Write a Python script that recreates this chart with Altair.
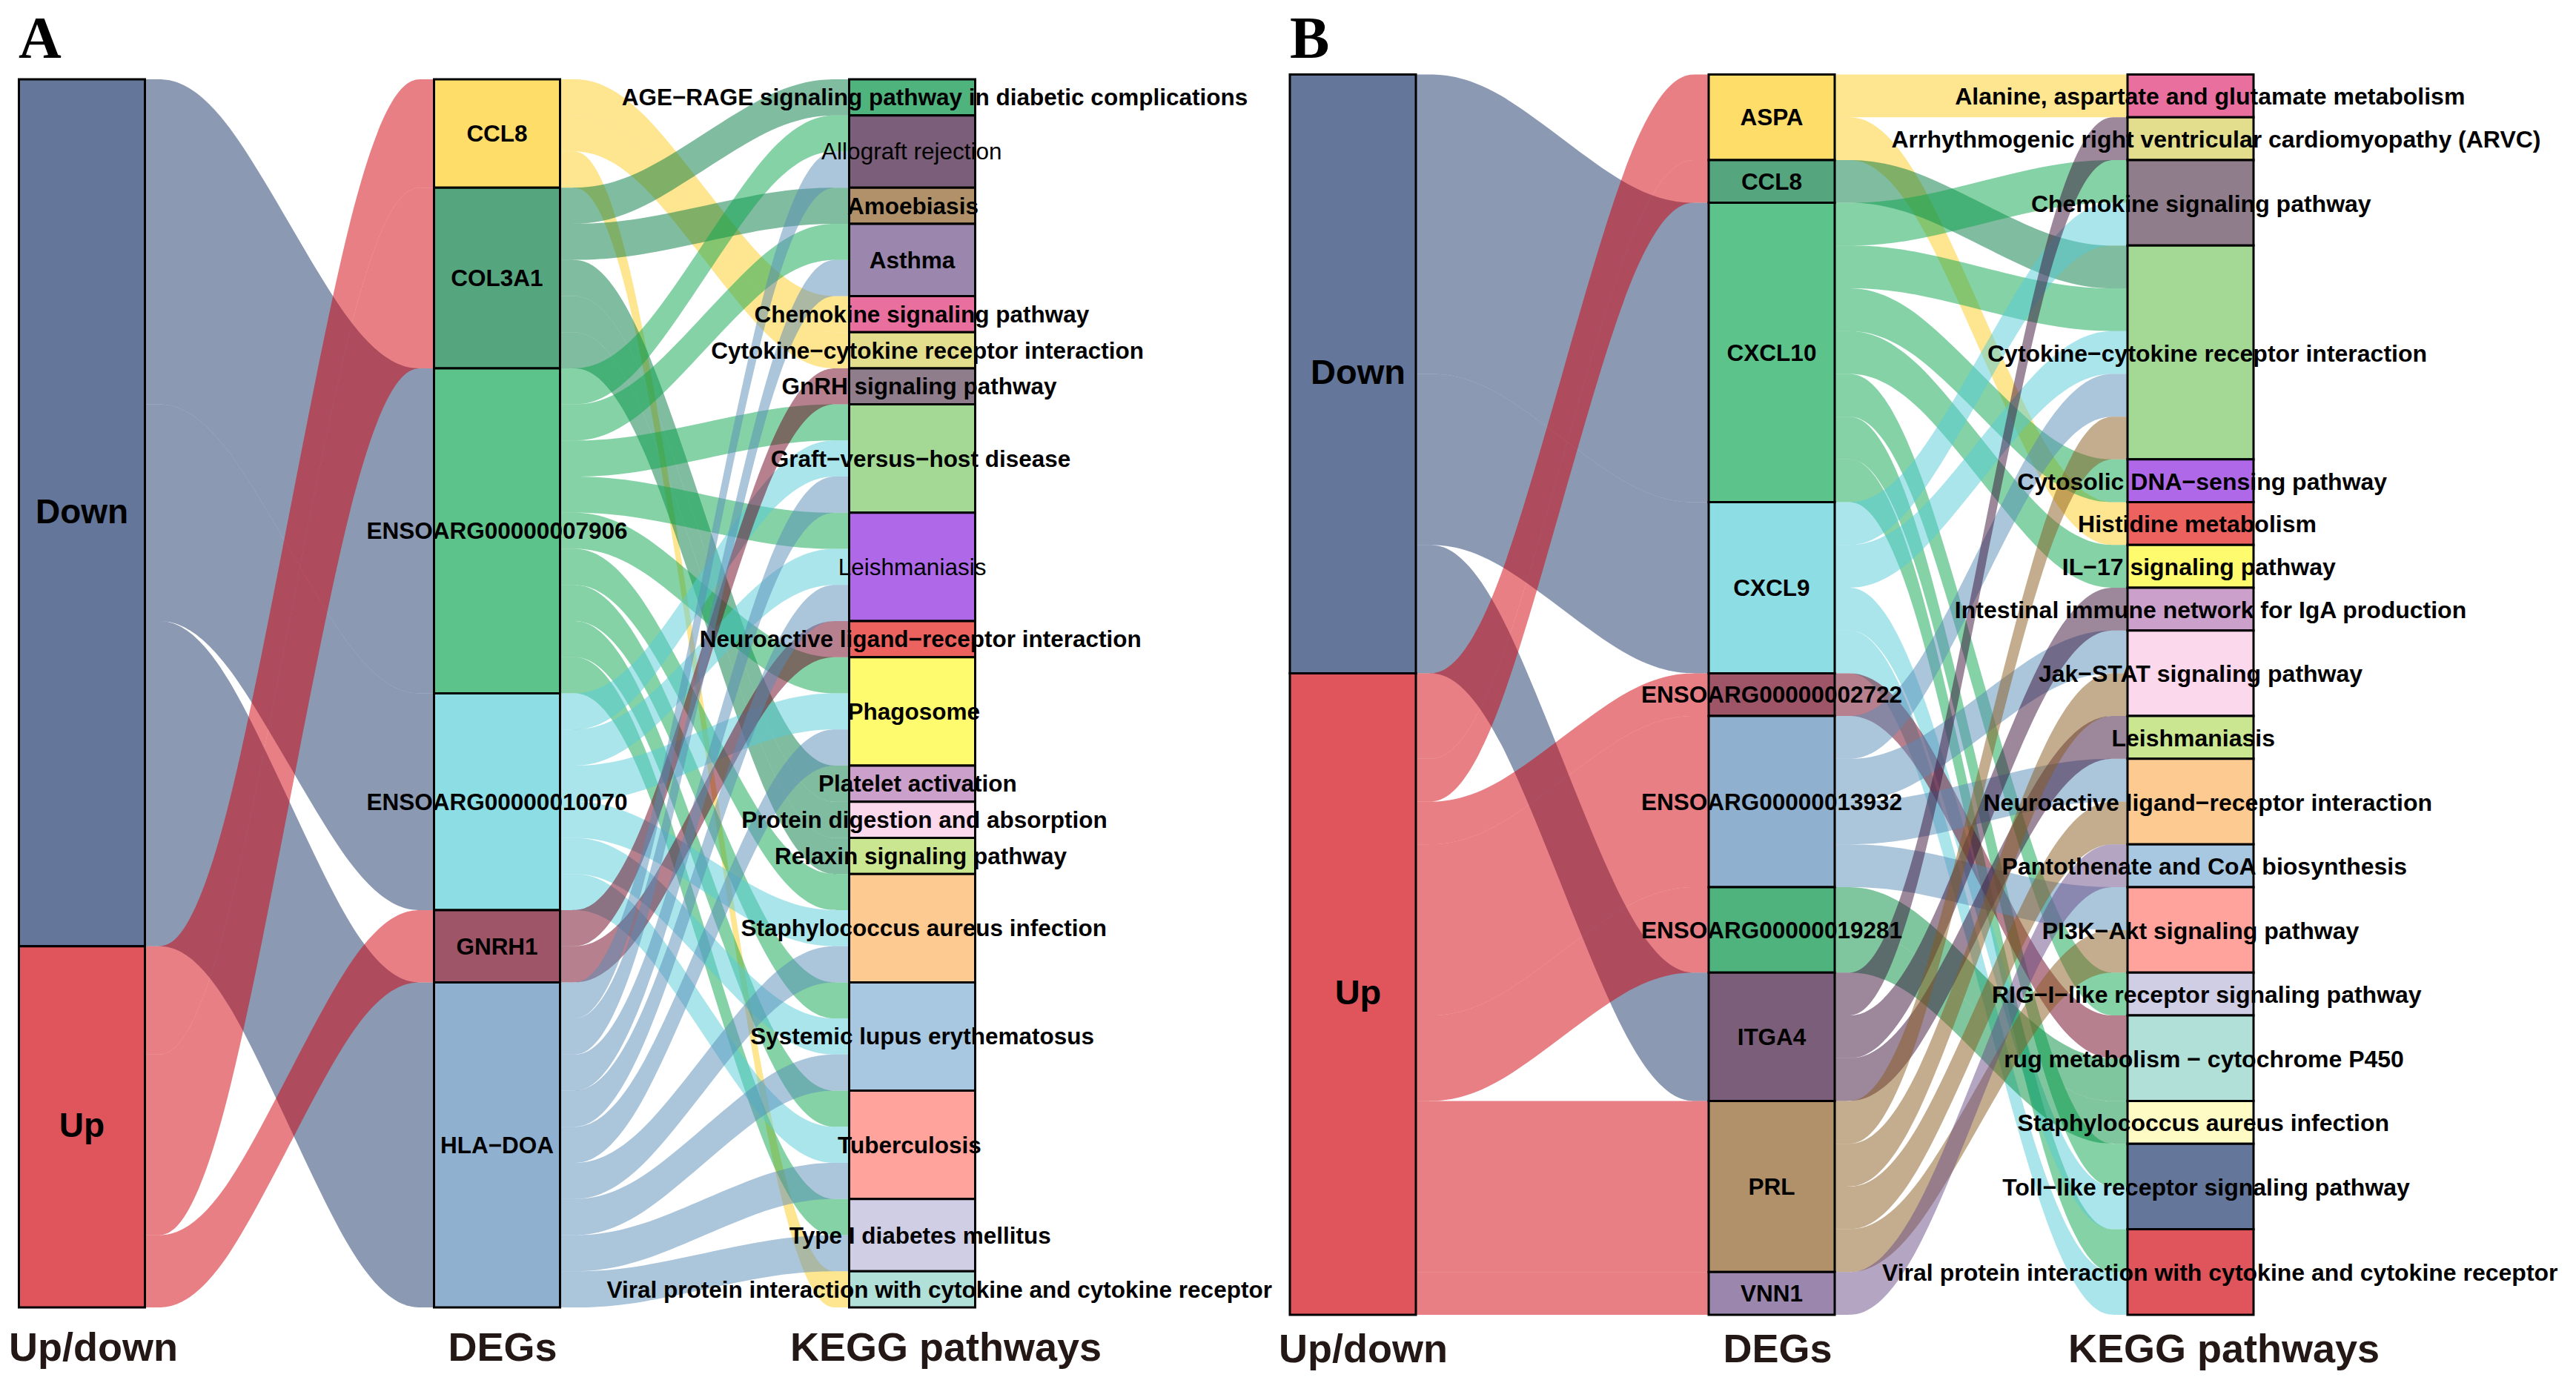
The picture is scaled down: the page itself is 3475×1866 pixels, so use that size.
import altair as alt
import pandas as pd

# ---------- chart values: panel A ----------
a_direction = ["Down", "Up"]
a_genes_down = ["ENSOARG00000007906", "ENSOARG00000010070", "HLA\u2212DOA"]
a_genes_up = ["CCL8", "COL3A1", "GNRH1"]
a_gene_order = ["CCL8", "COL3A1", "ENSOARG00000007906", "ENSOARG00000010070", "GNRH1", "HLA\u2212DOA"]
a_pathways = [
    "AGE\u2212RAGE signaling pathway in diabetic complications", "Allograft rejection", "Amoebiasis", "Asthma",
    "Chemokine signaling pathway", "Cytokine\u2212cytokine receptor interaction", "GnRH signaling pathway",
    "Graft\u2212versus\u2212host disease", "Leishmaniasis", "Neuroactive ligand\u2212receptor interaction", "Phagosome",
    "Platelet activation", "Protein digestion and absorption", "Relaxin signaling pathway",
    "Staphylococcus aureus infection", "Systemic lupus erythematosus", "Tuberculosis",
    "Type I diabetes mellitus", "Viral protein interaction with cytokine and cytokine receptor",
]
a_links = {
    "CCL8": [4, 5, 18],
    "COL3A1": [0, 2, 11, 12, 13],
    "ENSOARG00000007906": [1, 3, 7, 8, 10, 14, 15, 16, 17],
    "ENSOARG00000010070": [7, 8, 10, 14, 15, 16],
    "GNRH1": [6, 9],
    "HLA\u2212DOA": [1, 3, 7, 8, 10, 14, 15, 16, 17],
}

# ---------- chart values: panel B ----------
b_direction = ["Down", "Up"]
b_genes_down = ["CXCL10", "CXCL9", "ITGA4"]
b_genes_up = ["ASPA", "CCL8", "ENSOARG00000002722", "ENSOARG00000013932", "ENSOARG00000019281", "PRL", "VNN1"]
b_gene_order = ["ASPA", "CCL8", "CXCL10", "CXCL9", "ENSOARG00000002722", "ENSOARG00000013932",
                "ENSOARG00000019281", "ITGA4", "PRL", "VNN1"]
b_pathways = [
    "Alanine, aspartate and glutamate metabolism", "Arrhythmogenic right ventricular cardiomyopathy (ARVC)",
    "Chemokine signaling pathway", "Cytokine\u2212cytokine receptor interaction", "Cytosolic DNA\u2212sensing pathway",
    "Histidine metabolism", "IL\u221217 signaling pathway", "Intestinal immune network for IgA production",
    "Jak\u2212STAT signaling pathway", "Leishmaniasis", "Neuroactive ligand\u2212receptor interaction",
    "Pantothenate and CoA biosynthesis", "PI3K\u2212Akt signaling pathway", "RIG\u2212I\u2212like receptor signaling pathway",
    "rug metabolism \u2212 cytochrome P450", "Staphylococcus aureus infection", "Toll\u2212like receptor signaling pathway",
    "Viral protein interaction with cytokine and cytokine receptor",
]
b_links = {
    "ASPA": [0, 5],
    "CCL8": [3],
    "CXCL10": [2, 3, 4, 6, 13, 16, 17],
    "CXCL9": [2, 3, 16, 17],
    "ENSOARG00000002722": [14],
    "ENSOARG00000013932": [3, 8, 10, 12],
    "ENSOARG00000019281": [14, 15],
    "ITGA4": [1, 7, 9],
    "PRL": [3, 8, 10, 12],
    "VNN1": [11],
}

# ---------- styling ----------
dir_colors = {"Down": "#64779A", "Up": "#E0545B"}
a_gene_colors = ["#FEDD69", "#55A67F", "#5CC38A", "#8DDDE4", "#9E5568", "#8FB1CF"]
b_gene_colors = ["#FEDD69", "#55A67F", "#5CC38A", "#8DDDE4", "#9E5568", "#8FB1CF", "#4FB37E", "#7B5E79", "#B09169", "#9B87AE"]
a_path_colors = ["#4FB37E", "#7B5E79", "#B09169", "#9B87AE", "#E96F9E", "#E3DD8E", "#8F7D8B", "#A4D995", "#AF69E8",
                 "#EB625E", "#FFFB6E", "#CBA0CB", "#FBD8EC", "#CBE690", "#FDCB91", "#A8C8E2", "#FFA39C", "#D0CEE5", "#B0E0D8"]
b_path_colors = ["#E96F9E", "#E3DD8E", "#8F7D8B", "#A4D995", "#AF69E8", "#EB625E", "#FFFB6E", "#CBA0CB", "#FBD8EC",
                 "#CBE690", "#FDCB91", "#A8C8E2", "#FFA39C", "#D0CEE5", "#B0E0D8", "#FFFBC5", "#64779A", "#E0545B"]

W, H = 3459, 1850
KNOT = 0.25
BOX_ALPHA = 0.67      # the boxes are the ribbon hue seen at this alpha over white
RIBBON_OPACITY = 0.5


def ribbon_hue(box_hex):
    """Undo the box alpha so that ribbons overlap as darkly as they do in the figure."""
    rgb = [int(box_hex[i:i + 2], 16) for i in (1, 3, 5)]
    out = [max(0, min(255, round((v - (1 - BOX_ALPHA) * 255) / BOX_ALPHA))) for v in rgb]
    return "#%02X%02X%02X" % tuple(out)


panels = [
    dict(name="A", left=25.5, gap=560, col=170, top=107, bottom=1764,
         direction=a_direction, down=a_genes_down, up=a_genes_up, genes=a_gene_order,
         pathways=a_pathways, links=a_links, gcol=a_gene_colors, pcol=a_path_colors,
         letter_x=25, titles_x=[126, 678, 1276], title_y=1820, shift_k=0.7, dir_dx=0,
         light={"Allograft rejection", "Leishmaniasis"},
         nudge={"Neuroactive ligand\u2212receptor interaction": -10, "Allograft rejection": -8,
                "Tuberculosis": -6, "Leishmaniasis": -3, "Phagosome": 2}),
    dict(name="B", left=1740, gap=565, col=170, top=100.5, bottom=1774,
         direction=b_direction, down=b_genes_down, up=b_genes_up, genes=b_gene_order,
         pathways=b_pathways, links=b_links, gcol=b_gene_colors, pcol=b_path_colors,
         letter_x=1740, titles_x=[1839, 2398, 3000], title_y=1822, shift_k=0.75, dir_dx=7,
         light=set(), nudge={}),
]

ribbons, boxes, labels = [], [], []
rid = 0


def add_ribbon(x0, x1, top0, bot0, top1, bot1, color):
    global rid
    k = (x1 - x0) * KNOT
    for step, (xx, t, b) in enumerate([(x0, top0, bot0), (x0 + k, top0, bot0), (x1 - k, top1, bot1), (x1, top1, bot1)]):
        ribbons.append(dict(rib=f"r{rid}", step=step, px=xx, upper=t, lower=b, fillc=ribbon_hue(color)))
    rid += 1


for p in panels:
    genes, links, pathways = p["genes"], p["links"], p["pathways"]
    size = {g: len(links[g]) for g in genes}
    total = sum(size.values())
    unit = (p["bottom"] - p["top"]) / total
    X = [p["left"] + i * p["gap"] for i in range(3)]
    CW = p["col"]
    Y = lambda v: p["top"] + v * unit

    gene_start, c = {}, 0
    for g in genes:
        gene_start[g] = c
        c += size[g]

    # column 1 and its ribbons
    c = 0
    for d, members in zip(p["direction"], [p["down"], p["up"]]):
        n = sum(size[g] for g in members)
        boxes.append(dict(x=X[0], x2=X[0] + CW, y=Y(c), y2=Y(c + n), color=dir_colors[d]))
        labels.append(dict(x=X[0] + CW / 2 + p["dir_dx"], y=Y(c + n / 2), text=d, kind="dir_" + p["name"]))
        s = c
        for g in members:
            add_ribbon(X[0] + CW, X[1], Y(s), Y(s + size[g]), Y(gene_start[g]), Y(gene_start[g] + size[g]), dir_colors[d])
            s += size[g]
        c += n

    # pathway sizes
    psize = [0] * len(pathways)
    for g in genes:
        for i in links[g]:
            psize[i] += 1
    pstart, c = [], 0
    for v in psize:
        pstart.append(c)
        c += v
    pfill = list(pstart)

    # column 2 and its ribbons
    for gi, g in enumerate(genes):
        s = gene_start[g]
        boxes.append(dict(x=X[1], x2=X[1] + CW, y=Y(s), y2=Y(s + size[g]), color=p["gcol"][gi]))
        labels.append(dict(x=X[1] + CW / 2, y=Y(s + size[g] / 2) + 2, text=g, kind="gene"))
        for j, i in enumerate(links[g]):
            add_ribbon(X[1] + CW, X[2], Y(s + j), Y(s + j + 1), Y(pfill[i]), Y(pfill[i] + 1), p["gcol"][gi])
            pfill[i] += 1

    # column 3
    for i, name in enumerate(pathways):
        boxes.append(dict(x=X[2], x2=X[2] + CW, y=Y(pstart[i]), y2=Y(pstart[i] + psize[i]), color=p["pcol"][i]))
        shift = max(0, p["shift_k"] * len(name) - 6) + p["nudge"].get(name, 0)
        labels.append(dict(x=X[2] + CW / 2 + shift, y=Y(pstart[i] + psize[i] / 2) + 2, text=name,
                           kind="light" if name in p["light"] else "path_" + p["name"]))

    for tx, t in zip(p["titles_x"], ["Up/down", "DEGs", "KEGG pathways"]):
        labels.append(dict(x=tx, y=p["title_y"], text=t, kind="title"))
    labels.append(dict(x=p["letter_x"], y=54, text=p["name"], kind="letter"))

rib = pd.DataFrame(ribbons)
box = pd.DataFrame(boxes)
lab = pd.DataFrame(labels)

xs = alt.Scale(domain=[8, 8 + W], nice=False, zero=False)
ys = alt.Scale(domain=[8 + H, 8], nice=False, zero=False)
X_ = alt.X("x:Q", scale=xs, axis=None)
Y_ = alt.Y("y:Q", scale=ys, axis=None)

ribbon_layer = alt.Chart(rib).mark_area(interpolate="basis", opacity=RIBBON_OPACITY).encode(
    x=alt.X("px:Q", scale=xs, axis=None),
    y=alt.Y("upper:Q", scale=ys, axis=None),
    y2=alt.Y2("lower:Q"),
    detail="rib:N",
    fill=alt.Fill("fillc:N", scale=None),
)

box_layer = alt.Chart(box).mark_rect(stroke="black", strokeWidth=3).encode(
    x=X_, x2="x2:Q", y=Y_, y2="y2:Q", color=alt.Color("color:N", scale=None))


def text_layer(kind, **kw):
    return alt.Chart(lab[lab.kind == kind]).mark_text(baseline="middle", **kw).encode(x=X_, y=Y_, text="text:N")


SANS = "Liberation Sans"
layers = [
    ribbon_layer, box_layer,
    text_layer("path_A", font=SANS, fontWeight="bold", fontSize=31.5, align="center", color="black"),
    text_layer("path_B", font=SANS, fontWeight="bold", fontSize=32, align="center", color="black"),
    text_layer("light", font=SANS, fontWeight="normal", fontSize=31.5, align="center", color="black"),
    text_layer("gene", font=SANS, fontWeight="bold", fontSize=31.5, align="center", color="black"),
    text_layer("dir_A", font=SANS, fontWeight="bold", fontSize=46, align="center", color="black"),
    text_layer("dir_B", font=SANS, fontWeight="bold", fontSize=47, align="center", color="black"),
    text_layer("title", font=SANS, fontWeight="bold", fontSize=54, align="center", color="#231815"),
    text_layer("letter", font="Liberation Serif", fontWeight="bold", fontSize=80, align="left", color="black"),
]

chart = alt.layer(*layers).properties(
    width=W, height=H, padding=0, autosize=alt.AutoSizeParams(type="none"), background="white"
).configure_view(stroke=None)

chart.save("out.html", embed_options={"renderer": "svg", "actions": False})
